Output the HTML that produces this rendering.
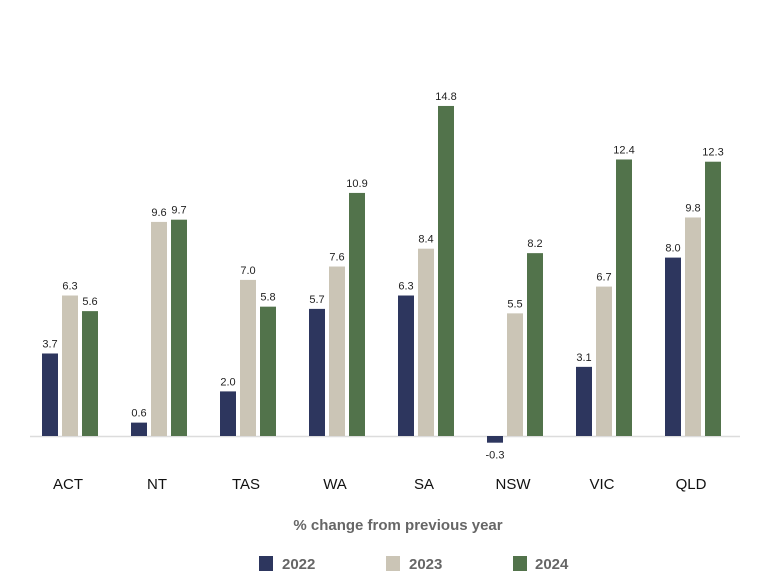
<!DOCTYPE html>
<html><head><meta charset="utf-8"><style>
body{margin:0;background:#fff;font-family:"Liberation Sans",sans-serif}
svg text{font-family:"Liberation Sans",sans-serif}
</style></head><body>
<svg width="768" height="582">
<line x1="30" x2="740" y1="436.5" y2="436.5" stroke="#dcdcdc" stroke-width="1.5"/>
<g id="bars"></g>
<text x="398" y="530" text-anchor="middle" font-size="15" font-weight="bold" fill="#666">% change from previous year</text>
<g>
<rect x="259" y="556" width="14" height="15" fill="#2d365e"/>
<text x="282" y="569" font-size="15" font-weight="bold" fill="#666">2022</text>
<rect x="386" y="556" width="14" height="15" fill="#cbc5b6"/>
<text x="409" y="569" font-size="15" font-weight="bold" fill="#666">2023</text>
<rect x="513" y="556" width="14" height="15" fill="#52734b"/>
<text x="535" y="569" font-size="15" font-weight="bold" fill="#666">2024</text>
</g>
</svg>
<script>
const categories=["ACT","NT","TAS","WA","SA","NSW","VIC","QLD"];
const s2022=[3.7,0.6,2.0,5.7,6.3,-0.3,3.1,8.0];
const s2023=[6.3,9.6,7.0,7.6,8.4,5.5,6.7,9.8];
const s2024=[5.6,9.7,5.8,10.9,14.8,8.2,12.4,12.3];
const series=[s2022,s2023,s2024];
const seriesNames=["2022","2023","2024"];
const colors=["#2d365e","#cbc5b6","#52734b"];
const NS="http://www.w3.org/2000/svg";
const baseY=436, unit=22.3, groupStart=70, groupStep=89, barW=16, barGap=20;
const y=v=>baseY-v*unit;
const xc=i=>groupStart+i*groupStep;
const g=document.getElementById('bars');
categories.forEach((c,i)=>{
  series.forEach((s,j)=>{
    const v=s[i];
    const x=xc(i)+(j-1)*barGap-barW/2;
    const r=document.createElementNS(NS,'rect');
    
    
    r.setAttribute('x',x);r.setAttribute('width',barW);
    r.setAttribute('y',Math.min(y(v),baseY));
    r.setAttribute('height',Math.abs(v*unit));
    r.setAttribute('fill',colors[j]);
    g.appendChild(r);
    const t=document.createElementNS(NS,'text');
    
    
    t.setAttribute('x',x+barW/2);
    t.setAttribute('y',v>=0?y(v)-6:y(v)+16);
    t.setAttribute('text-anchor','middle');
    t.setAttribute('font-size','11');
    t.setAttribute('fill','#222');
    t.textContent=v.toFixed(1);
    g.appendChild(t);
  });
  const l=document.createElementNS(NS,'text');
  
  
  l.setAttribute('x',xc(i)-2);l.setAttribute('y',489);
  l.setAttribute('text-anchor','middle');l.setAttribute('font-size','15');l.setAttribute('fill','#111');
  l.textContent=c;
  g.appendChild(l);
});
</script>
</body></html>
